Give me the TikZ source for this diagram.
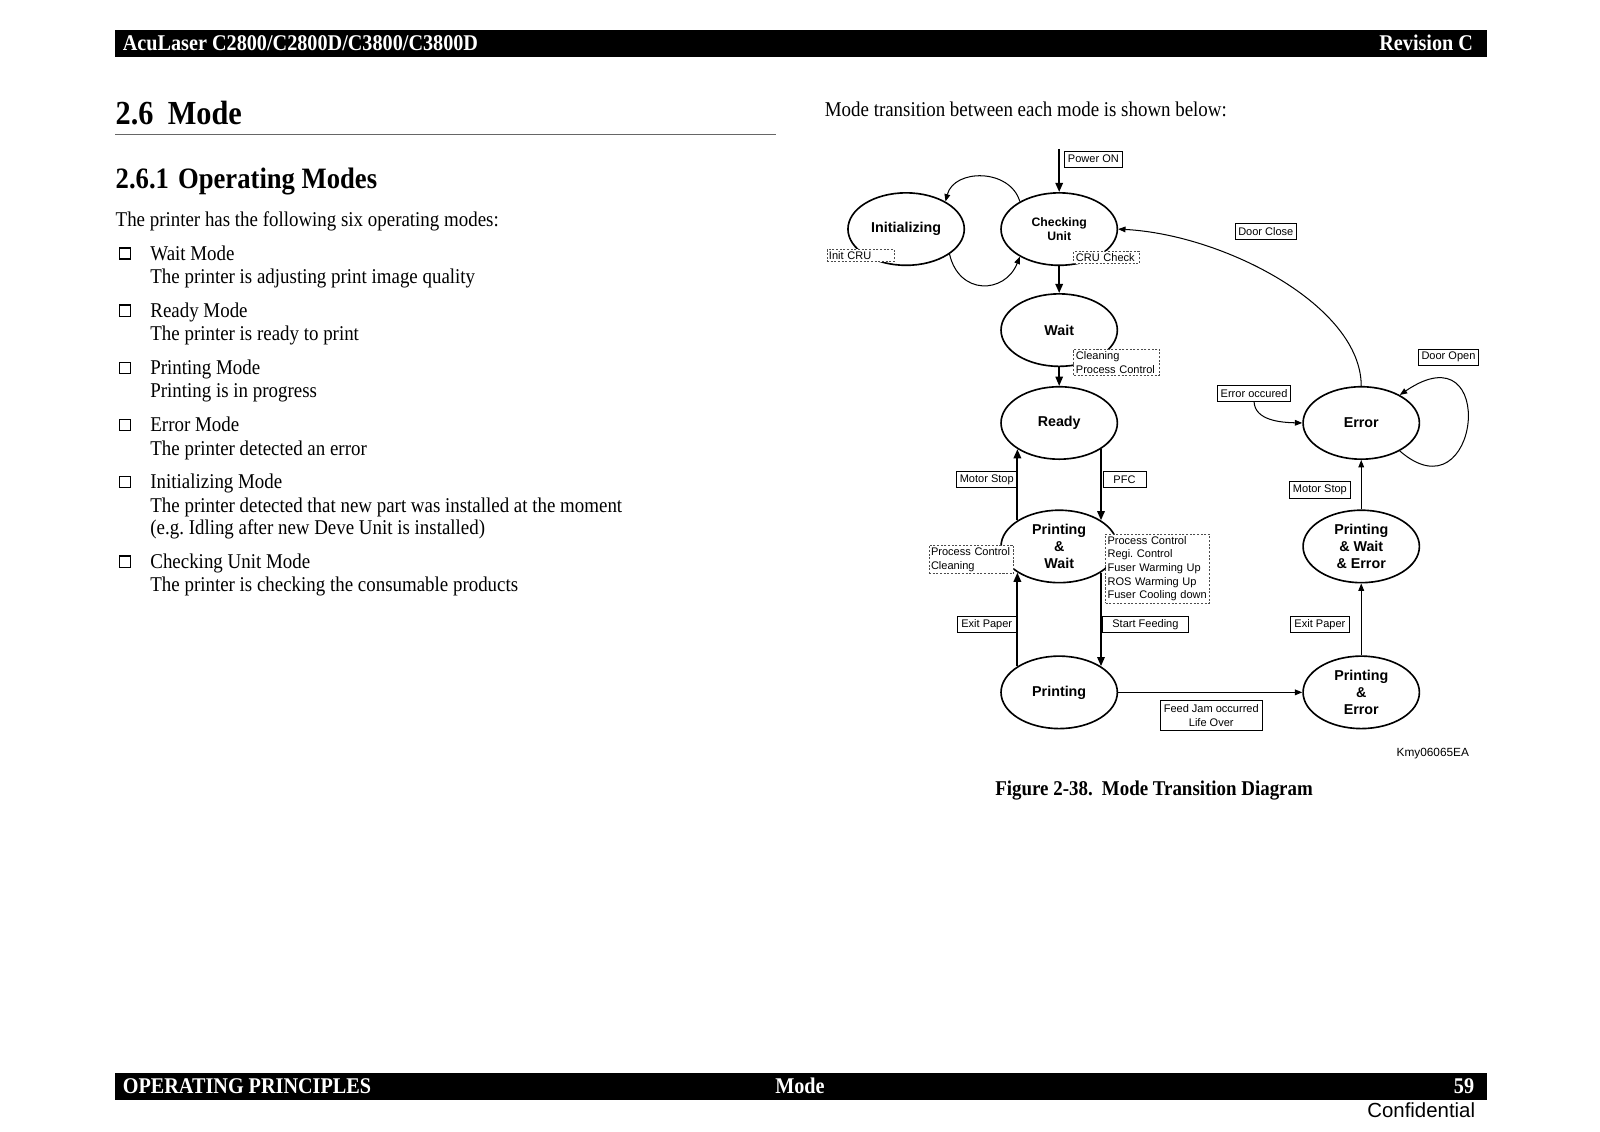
\documentclass[tikz,border=0pt]{standalone}
\usepackage{fontspec}
\setmainfont[FakeStretch=0.9]{Liberation Serif}
\newfontfamily\diagfont{Liberation Sans}
\usepackage{tikz}
\usetikzlibrary{shapes.geometric,arrows.meta,positioning}
\frenchspacing

\newcommand{\bodytext}{\fontsize{10.3}{11.5}\selectfont}
\newcommand{\lblfont}{\diagfont\fontsize{5.4}{6.7}\selectfont}
\newcommand{\modefont}{\diagfont\bfseries\fontsize{7}{8.5}\selectfont}
\newcommand{\chkfont}{\diagfont\bfseries\fontsize{6}{7}\selectfont}

\begin{document}
\begin{tikzpicture}[
    x=0.5pt, y=-0.5pt,
    mode/.style={ellipse, draw, line width=0.8pt, minimum width=57pt, minimum height=35.5pt, inner sep=0pt, align=center, font=\modefont},
    lbl/.style={rectangle, draw, fill=white, line width=0.4pt, inner xsep=1.6pt, inner ysep=0pt, minimum height=8pt, align=center, font=\lblfont},
    cond/.style={rectangle, draw=black!70, fill=white, dash pattern=on 1pt off 0.8pt, line width=0.4pt, inner xsep=1pt, inner ysep=1pt, align=left, anchor=north west, font=\lblfont},
    arrow/.style={-{Triangle[length=4.5pt,width=3.6pt]}, line width=1pt},
    thin arrow/.style={-{Triangle[length=3.6pt,width=2.8pt]}, line width=0.5pt},
    bartext/.style={text=white, inner sep=0pt, font=\fontsize{11}{12}\selectfont\bfseries},
    body/.style={anchor=base west, inner sep=0pt, font=\bodytext}
]
\useasboundingbox (0,0) rectangle (1568,1109);

% Header and footer
\fill (113,29) rectangle (1457,56);
\node[bartext, anchor=base west] (hdleft) at (120,49) {AcuLaser C2800/C2800D/C3800/C3800D};
\node[bartext, anchor=base east] (hdright) at (1444,49) {Revision C};
\fill (113,1052) rectangle (1457,1078);
\node[bartext, anchor=base west] (ftleft) at (120,1072) {OPERATING PRINCIPLES};
\node[bartext, anchor=base] (ftmid) at (784,1072) {Mode};
\node[bartext, anchor=base east] (ftright) at (1445,1072) {59};
\node[anchor=base east, inner sep=0pt, font=\diagfont\fontsize{10}{12}\selectfont] (conf) at (1446,1095) {Confidential};

% Left column
\node[body, font=\fontsize{16.5}{18}\selectfont\bfseries] (sec) at (113,122) {2.6\hspace{7pt}Mode};
\draw[black!60, line width=0.6pt] (113,132) -- (760,132);
\node[body, font=\fontsize{14.5}{16}\selectfont\bfseries] (subsec) at (113,185) {2.6.1\hspace{4.5pt}Operating Modes};
\node[body] (intro) at (113,222) {The printer has the following six operating modes:};
\foreach \yy/\txt in {255/Wait Mode, 311/Ready Mode, 367/Printing Mode, 423/Error Mode, 479/Initializing Mode, 557/Checking Unit Mode} {
  \draw[line width=0.7pt] (117,\yy-12) rectangle (128,\yy-1);
  \node[body] (head-\yy) at (147,\yy) {\txt};
}
\node[body] (desc-wait) at (147,278) {The printer is adjusting print image quality};
\node[body] (desc-ready) at (147,334) {The printer is ready to print};
\node[body] (desc-print) at (147,390) {Printing is in progress};
\node[body] (desc-err) at (147,446) {The printer detected an error};
\node[body] (desc-init) at (147,502) {The printer detected that new part was installed at the moment};
\node[body] (desc-init2) at (147,524) {(e.g. Idling after new Deve Unit is installed)};
\node[body] (desc-chk) at (147,580) {The printer is checking the consumable products};

% Right column
\node[body] (lead) at (808,114) {Mode transition between each mode is shown below:};

% Modes
\node[mode] (init) at (888,224.5) {Initializing};
\node[mode, font=\chkfont] (ck) at (1038,224.5) {Checking\\Unit};
\node[mode] (wait) at (1038,323.5) {Wait};
\node[mode] (ready) at (1038,414.5) {Ready};
\node[mode] (pw) at (1038,535.5) {Printing\\\&\\Wait};
\node[mode] (prt) at (1038,678.5) {Printing};
\node[mode] (err) at (1334,414.5) {Error};
\node[mode] (pwe) at (1334,535.5) {Printing\\\& Wait\\\& Error};
\node[mode] (pe) at (1334,678.5) {Printing\\\&\\Error};

% Conditions
\node[lbl, anchor=west] (pwron) at (1043,156) {Power ON};
\node[cond, text width=31pt] (initcru) at (810,244) {Init CRU};
\node[cond, text width=30pt] (crucheck) at (1052,246) {CRU Check};
\node[cond, text width=40pt] (clean) at (1052,342) {Cleaning\\Process Control};
\node[cond, text width=39.5pt] (pcclean) at (910,534) {Process Control\\Cleaning};
\node[cond, text width=49pt] (pwcond) at (1083,523) {Process Control\\Regi. Control\\Fuser Warming Up\\ROS Warming Up\\Fuser Cooling down};
\node[lbl] (doorclose) at (1240.5,227) {Door Close};
\node[lbl, minimum width=29pt] (mstopl) at (967,470) {Motor Stop};
\node[lbl, minimum width=21pt] (pfc) at (1102,470) {PFC};
\node[lbl, minimum width=29pt] (exitl) at (967,612) {Exit Paper};
\node[lbl, minimum width=42.5pt] (startfeed) at (1122.5,612) {Start Feeding};
\node[lbl, minimum width=50pt, minimum height=15pt] (jam) at (1187,701) {Feed Jam occurred\\Life Over};
\node[lbl, minimum width=29pt] (exitr) at (1293.5,612) {Exit Paper};
\node[lbl, minimum width=29pt] (mstopr) at (1293.5,480) {Motor Stop};
\node[lbl] (erocc) at (1229,385.5) {Error occured};
\node[lbl] (dooropen) at (1419.5,350) {Door Open};
\node[anchor=base east, inner sep=0pt, font=\diagfont\fontsize{5.8}{7}\selectfont] (figid) at (1440,741) {Kmy06065EA};
\node[anchor=base, inner sep=0pt, font=\bodytext\bfseries] (caption) at (1131,780) {Figure 2-38.\hspace{4.5pt}Mode Transition Diagram};

% Transitions
\coordinate (pwrin) at (1038,146);
\draw[arrow] (pwrin) -- (ck);
\draw[thin arrow] (ck.145) .. controls (990,165) and (935,165) .. (init.35);
\draw[thin arrow] (init.-30) .. controls (940,290) and (985,288) .. (ck.-145);
\draw[arrow] (ck) -- (wait);
\draw[arrow, line width=0.7pt] (wait) -- (ready);
\draw[arrow] (ready.-32) -- (pw.32);
\draw[arrow] (pw.148) -- (ready.-148);
\draw[arrow] (pw.-32) -- (prt.32);
\draw[arrow] (prt.148) -- (pw.-148);
\draw[thin arrow] (prt) -- (pe);
\draw[thin arrow] (pe) -- (pwe);
\draw[thin arrow] (pwe) -- (err);
\draw[thin arrow] (err.north) .. controls (1334,300) and (1200,230) .. (ck.east);
\draw[thin arrow] (erocc.south) .. controls (1230,412) and (1255,414) .. (err.west);
\draw[thin arrow] (err.-36) .. controls (1450,510) and (1470,320) .. (err.36);

\end{tikzpicture}
\end{document}
